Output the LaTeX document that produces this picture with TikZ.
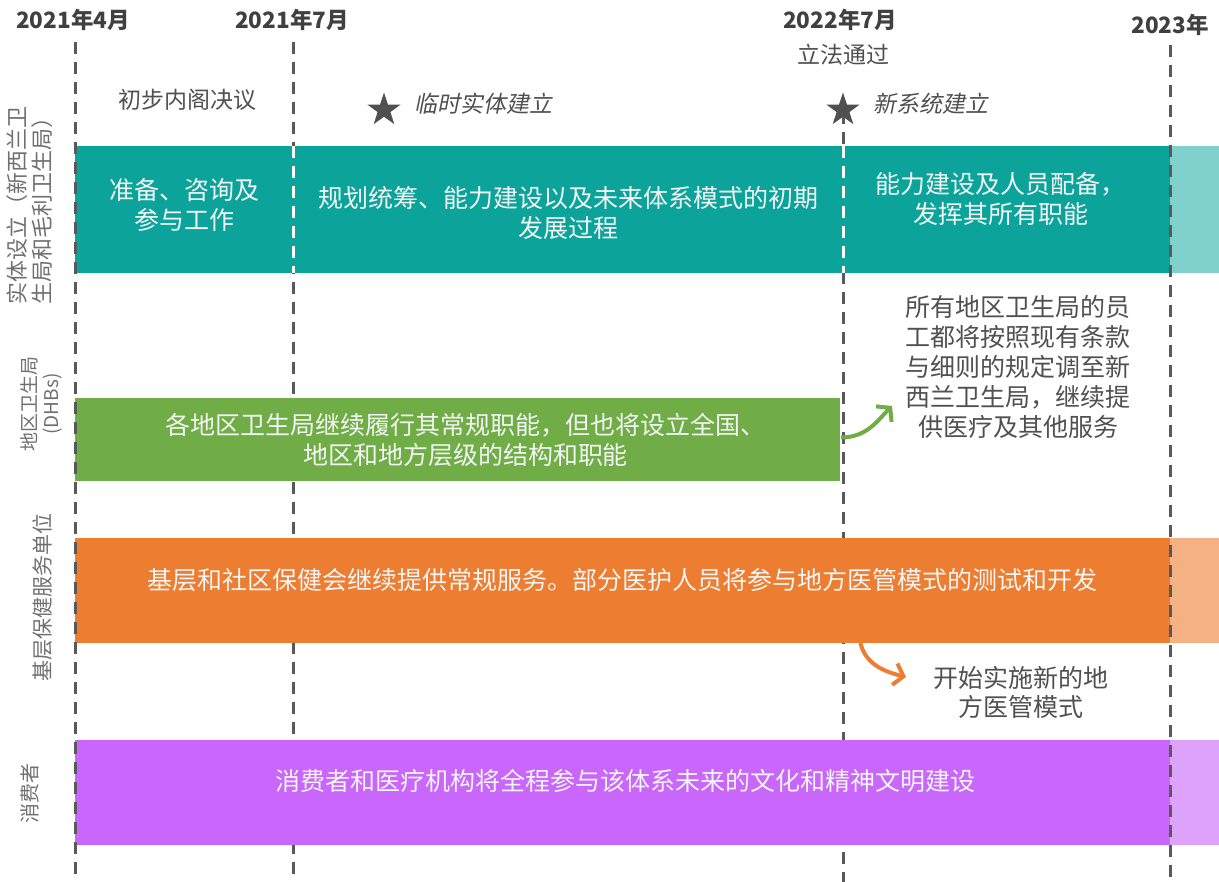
\documentclass[tikz,border=0pt]{standalone}
\usepackage{fontspec}
\setmainfont{Noto Sans CJK SC}
\newfontfamily\cjkit{Noto Sans CJK SC}[FakeSlant=0.2]
\usetikzlibrary{shapes.geometric,arrows.meta,calc}
\definecolor{tealc}{HTML}{0CA39B}
\definecolor{teall}{HTML}{80D0CC}
\definecolor{greenc}{HTML}{70AD47}
\definecolor{orangec}{HTML}{ED7D31}
\definecolor{orangel}{HTML}{F4B183}
\definecolor{purplec}{HTML}{C966FB}
\definecolor{purplel}{HTML}{DDA3FB}
\definecolor{linec}{HTML}{595959}
\definecolor{headc}{HTML}{404040}
\definecolor{notec}{HTML}{505050}
\definecolor{sidec}{HTML}{707070}
\definecolor{bandtxt}{HTML}{F2F5F4}
\begin{document}
\begin{tikzpicture}[x=1pt,y=-1pt,
  vdash/.style={draw=linec,line width=3pt,dash pattern=on 12pt off 8pt},
  wdash/.style={draw=white,line width=3pt,dash pattern=on 12pt off 8pt},
  band/.style={anchor=north west,inner sep=0pt,outer sep=0pt,draw=none},
  bandtext/.style={align=center,text=bandtxt,font=\fontsize{25}{30}\selectfont,inner sep=0pt},
  head/.style={text=headc,font=\fontsize{22.5}{26}\selectfont\bfseries,inner sep=0pt},
  note/.style={text=notec,align=center,font=\fontsize{25}{30}\selectfont,inner sep=0pt},
  small/.style={text=notec,font=\fontsize{23}{26}\selectfont,inner sep=0pt},
  itl/.style={text=notec,font=\fontsize{23}{26}\selectfont\cjkit,inner sep=0pt,anchor=west},
  side/.style={text=sidec,align=center,rotate=90,inner sep=0pt},
  starm/.style={star,star points=5,star point ratio=2.6,fill=notec,draw=none,minimum size=35pt,inner sep=0pt},
  arr/.style={line width=4pt,-{Straight Barb[length=9pt,width=22pt]}}
]
\useasboundingbox (0,0) rectangle (1219,882);

% timeline coordinates
\coordinate (l1t) at (75,42);   \coordinate (l1b) at (75,882);
\coordinate (l2t) at (293,42);  \coordinate (l2b) at (293,882);
\coordinate (l3t) at (843,112); \coordinate (l3b) at (843,882);
\coordinate (l4t) at (1170,45); \coordinate (l4b) at (1170,882);

% background dashed lines
\draw[vdash] (l2t) -- (l2b);
\draw[vdash] (l3t) -- (l3b);

% bands
\node[band,fill=tealc,minimum width=218pt,minimum height=127pt] (t1) at (75,146) {};
\node[band,fill=tealc,minimum width=550pt,minimum height=127pt] (t2) at (293,146) {};
\node[band,fill=tealc,minimum width=327pt,minimum height=127pt] (t3) at (843,146) {};
\node[band,fill=teall,minimum width=49pt,minimum height=127pt] (t4) at (1170,146) {};
\draw[wdash] (t2.north west) -- (t2.south west);
\draw[wdash] (t3.north west) -- (t3.south west);

\node[band,fill=greenc,minimum width=765pt,minimum height=83pt] (g1) at (75,398) {};

\node[band,fill=orangec,minimum width=1095pt,minimum height=105pt] (o1) at (75,538) {};
\node[band,fill=orangel,minimum width=49pt,minimum height=105pt] (o2) at (1170,538) {};

\node[band,fill=purplec,minimum width=1095pt,minimum height=105pt] (p1) at (75,740) {};
\node[band,fill=purplel,minimum width=49pt,minimum height=105pt] (p2) at (1170,740) {};

% foreground dashed lines
\draw[vdash] (l1t) -- (l1b);
\draw[vdash] (l4t) -- (l4b);

% band texts
\node[bandtext] (tx1) at ($(t1.center)+(0,-5)$) {准备、咨询及\\参与工作};
\node[bandtext] (tx2) at ($(t2.center)+(0,3)$) {规划统筹、能力建设以及未来体系模式的初期\\发展过程};
\node[bandtext] (tx3) at ($(t3.center)+(-6,-10)$) {能力建设及人员配备，\\发挥其所有职能};
\node[bandtext] (gx) at ($(g1.center)+(8,0)$) {各地区卫生局继续履行其常规职能，但也将设立全国、\\地区和地方层级的结构和职能};
\node[bandtext] (ox) at ($(o1.center)+(0,-10)$) {基层和社区保健会继续提供常规服务。部分医护人员将参与地方医管模式的测试和开发};
\node[bandtext] (px) at ($(p1.center)+(3,-12)$) {消费者和医疗机构将全程参与该体系未来的文化和精神文明建设};

% headers
\node[head] (h1) at (73,20) {2021年4月};
\node[head] (h2) at (292,20) {2021年7月};
\node[head] (h3) at (840,20) {2022年7月};
\node[head] (h4) at (1170,25) {2023年};

% annotations
\node[small] (a1) at (843,55) {立法通过};
\node[small] (a2) at (187,100) {初步内阁决议};
\node[starm] (st1) at (384,110) {};
\node[starm] (st2) at (843,110) {};
\node[itl] (i1) at (414,104) {临时实体建立};
\node[itl] (i2) at (873,104) {新系统建立};

% side labels
\node[side,font=\fontsize{22}{25}\selectfont] (s1) at (30,206) {实体设立（新西兰卫\\生局和毛利卫生局）};
\node[side,font=\fontsize{19}{22}\selectfont] (s2) at (41,404) {地区卫生局\\(DHBs)};
\node[side,font=\fontsize{21}{25}\selectfont] (s3) at (43,597) {基层保健服务单位};
\node[side,font=\fontsize{20}{24}\selectfont] (s4) at (30,793) {消费者};

% right notes
\node[note] (n1) at (1018,367) {所有地区卫生局的员\\工都将按照现有条款\\与细则的规定调至新\\西兰卫生局，继续提\\供医疗及其他服务};
\node[note,font=\fontsize{25}{29}\selectfont] (n2) at (1021,692) {开始实施新的地\\方医管模式};

% arrows
\coordinate (gs) at ($(g1.east)+(1,-2)$);
\coordinate (gtip) at (892,406);
\draw[arr,draw=greenc] (gs) .. controls ($(gs)+(26,0)$) and ($(gtip)+(-14,14)$) .. (gtip);
\coordinate (os) at ($(o1.south)+(238,0)$);
\coordinate (otip) at (906,677);
\draw[arr,draw=orangec] (os) .. controls ($(os)+(5,22)$) and ($(otip)+(-20,-5)$) .. (otip);
\end{tikzpicture}
\end{document}
